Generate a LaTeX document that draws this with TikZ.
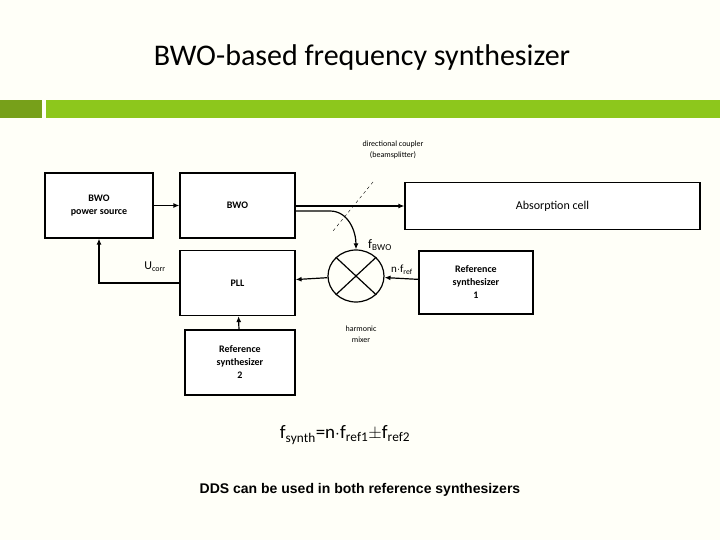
\documentclass[tikz,border=0pt]{standalone}
\usepackage{fontspec}
\setmainfont{Carlito}
\setsansfont{Liberation Sans}
\usetikzlibrary{arrows.meta, positioning, shapes.geometric}
\definecolor{bardark}{HTML}{77A01A}
\definecolor{barlight}{HTML}{8DC71C}
\definecolor{paper}{HTML}{FFFFF8}
\tikzset{
  blk/.style={draw, line width=1.2pt, fill=white, align=center, font=\bfseries\fontsize{10}{13}\selectfont},
  sig/.style={line width=1.2pt, -{Latex[length=6pt,width=5pt]}}
}
\begin{document}
\begin{tikzpicture}[x=1pt,y=-1pt]
    \fill[paper] (0,0) rectangle (720,540);
    \useasboundingbox (0,0) rectangle (720,540);
    \fill[bardark] (0,100) rectangle (42,118);
    \fill[barlight] (46,100) rectangle (720,118);
    \node[font=\fontsize{30}{36}\selectfont] (title) at (362,58) {BWO-based frequency synthesizer};

    \node[blk, minimum width=108pt, minimum height=65pt] (pws) at (99,205.5) {BWO\\power source};
    \node[blk, minimum width=115pt, minimum height=65pt] (bwo) at (237.5,205.5) {BWO};
    \node[draw, line width=1.2pt, fill=white, minimum width=295pt, minimum height=47pt, font=\fontsize{12}{14}\selectfont] (cell) at (552.5,206) {Absorption cell};
    \node[blk, minimum width=115pt, minimum height=65pt] (pll) at (237.5,283) {PLL};
    \node[draw, line width=1.2pt, ellipse, minimum width=56pt, minimum height=52pt, inner sep=0pt] (mix) at (356,276) {};
    \draw[line width=1.2pt] (mix.north west) -- (mix.south east) (mix.north east) -- (mix.south west);
    \node[blk, minimum width=110pt, minimum height=65pt] (ref2) at (240,362.5) {Reference\\synthesizer\\2};

    % signal paths
    \draw[sig] (pws) -- (bwo);
    \draw[sig] (bwo.east |- 0,206) -- (cell.west |- 0,206);
    \draw[sig] (bwo.east |- 0,211) -- (330,211) to[out=0,in=90] (mix.north);
    \draw[sig] (mix) -- (pll);
    \draw[sig] (ref2) -- (pll);
    \draw[sig] (pll.west) -| (pws.south);
    \node[font=\fontsize{11}{13}\selectfont] (nf) at (402,270) {n$\cdot$f$_{\mathrm{ref}}$};
    \node[blk, minimum width=114pt, minimum height=63pt] (ref1) at (476,282.5) {Reference\\synthesizer\\1};
    \draw[sig] (ref1) -- (mix);

    % coupler
    \draw[dashed, thin] (373,182) -- (333,231);
    \node[font=\fontsize{8}{11}\selectfont, align=center] (cpl) at (393,150) {directional coupler\\(beamsplitter)};
    \node[font=\fontsize{13}{15}\selectfont] (fbwo) at (380,245) {f$_{\mathrm{BWO}}$};
    \node[font=\fontsize{12}{14}\selectfont] (ucorr) at (155,267) {U$_{\mathrm{corr}}$};
    \node[font=\fontsize{8}{11}\selectfont, align=center] (hm) at (361,334) {harmonic\\mixer};

    \node[font=\fontsize{19}{22}\selectfont] (eq) at (345,435) {f$_{\mathrm{synth}}$=n$\cdot$f$_{\mathrm{ref1}}$$\pm$f$_{\mathrm{ref2}}$};
    \node[font=\sffamily\bfseries\fontsize{14}{17}\selectfont] (dds) at (360,490) {DDS can be used in both reference synthesizers};
\end{tikzpicture}
\end{document}
